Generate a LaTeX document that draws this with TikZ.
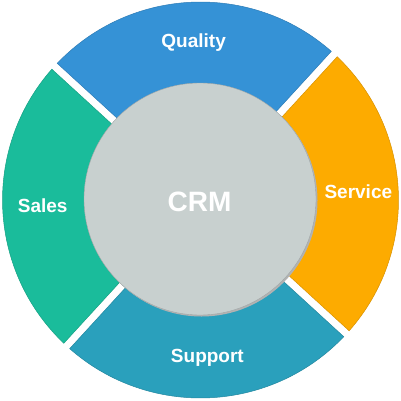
\documentclass[tikz,border=0pt]{standalone}
\usepackage{fontspec}
\setmainfont{Liberation Sans}
\usetikzlibrary{calc}
\definecolor{qualityblue}{HTML}{3592D6}
\definecolor{servicegold}{HTML}{FDAB00}
\definecolor{supportteal}{HTML}{2AA0BC}
\definecolor{salesgreen}{HTML}{1ABC9B}
\definecolor{hubgray}{HTML}{C8D0CF}
\tikzset {
    segment/.style = {fill = #1, draw = #1!85!black, line width = 0.5pt},
    label text/.style = {text = white, anchor = mid, inner sep = 0pt,
        font = \bfseries\fontsize{19}{22}\selectfont},
    hub/.style = {circle, fill = hubgray, draw = hubgray!80!black,
        line width = 0.4pt, minimum size = 232pt, inner sep = 0pt},
    hub text/.style = {text = white, inner sep = 0pt,
        font = \bfseries\fontsize{28}{32}\selectfont},
}

\begin{document}
\begin{tikzpicture}[x = 1pt, y = 1pt]
    \useasboundingbox (0, 0) rectangle (401, 400);
    \coordinate (o) at (200.5, 200);
    \coordinate (t) at (200.5, 197.5);
    % four ring segments, gaps of 8 between them
    \foreach \a/\col/\txt in {47.5/qualityblue/Quality, 137.5/salesgreen/Sales,
        227.5/supportteal/Support, 317.5/servicegold/Service} {
        \draw [segment = \col]
            ($(o) + (\a + 90:4)$) -- ($(o) + (\a:197.96) + (\a + 90:4)$)
            arc [start angle = \a + 1.16, end angle = \a + 88.84, radius = 198]
            -- ($(o) + (\a:4)$) -- cycle;
        \node (\txt) [label text] at ($(t) + (\a + 45:158)$) {\txt};
    }
    % centre
    \fill [gray!60] (201.5, 199.5) circle (116);
    \node (hub) [hub] at (200, 201) {};
    \node (crm) [hub text] at ($(hub.center) + (-0.5, -2.7)$) {CRM};
\end{tikzpicture}
\end{document}
